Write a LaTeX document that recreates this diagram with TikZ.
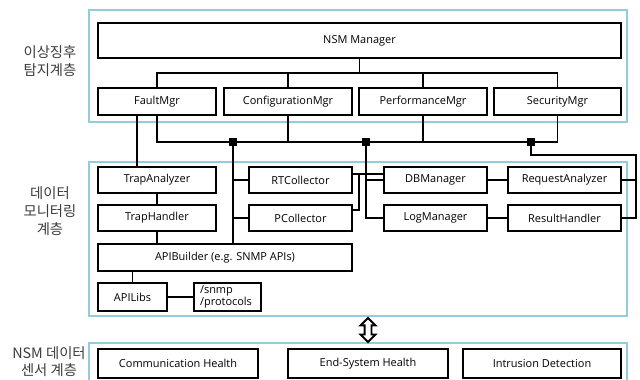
\documentclass[tikz,border=0pt]{standalone}
\usepackage{fontspec}
\setmainfont{Open Sans}
\newfontfamily\krfont{Noto Sans CJK KR}
\usetikzlibrary{calc}
\usetikzlibrary{shapes.arrows}

\definecolor{layerblue}{HTML}{92CDDC}
\definecolor{labelgray}{HTML}{3C3C3C}

\tikzset{
    layer/.style={draw=layerblue, line width=1.1pt},
    box/.style 2 args={draw, line width=1.2pt, inner sep=0pt,
        minimum width=#1*0.025cm, minimum height=#2*0.025cm,
        font=\fontsize{7.8}{8.6}\selectfont},
    link/.style={line width=1.05pt},
    junc/.style={fill, inner sep=0pt, minimum size=8*0.025cm},
    tier/.style={align=center, text=labelgray,
        font=\krfont\fontsize{10.2}{12.8}\selectfont}
}

\begin{document}
\begin{tikzpicture}[x=0.025cm, y=-0.025cm]
    \useasboundingbox (0,0) rectangle (640,380);

    \draw[layer] (89,10) rectangle (627,122);
    \draw[layer] (89,162) rectangle (627,316);
    \draw[layer] (89,343) rectangle (627,395);

    \node[tier] (tier1) at (50,61) {이상징후\\탐지계층};
    \node[tier] (tier2) at (50,211) {데이터\\모니터링\\계층};
    \node[tier, font=\krfont\fontsize{10.2}{12}\selectfont] (tier3) at (49,361.5) {NSM 데이터\\센서 계층};

    \node[box={523}{35}] (nsm) at (359.5,40.5) {NSM Manager};
    \node[box={118}{27}] (fault) at (157,101.5) {FaultMgr};
    \node[box={128}{27}] (config) at (288,101.5) {ConfigurationMgr};
    \node[box={128}{27}] (perf) at (423,101.5) {PerformanceMgr};
    \node[box={127}{27}] (secur) at (557.5,101.5) {SecurityMgr};

    \node[box={118}{26}] (trapa) at (157,180) {TrapAnalyzer};
    \node[box={118}{26}] (traph) at (157,218) {TrapHandler};
    \node[box={103}{26}] (rtc) at (300.5,180) {RTCollector};
    \node[box={103}{26}] (pcol) at (300.5,218) {PCollector};
    \node[box={103}{26}] (dbm) at (435.5,180) {DBManager};
    \node[box={103}{26}] (logm) at (435.5,218) {LogManager};
    \node[box={113}{26}] (reqa) at (564.5,180) {RequestAnalyzer};
    \node[box={113}{26}] (resh) at (564.5,218) {ResultHandler};
    \node[box={254}{27}] (apib) at (225,257.5) {APIBuilder (e.g. SNMP APIs)};
    \node[box={69}{28}] (apil) at (132.5,297) {APILibs};
    \node[box={67}{28}, text width=55*0.025cm, align=left] (proto) at (227.5,297) {/snmp\\/protocols};

    \node[box={160}{29}] (comm) at (178,363.5) {Communication Health};
    \node[box={160}{29}] (endsys) at (368,363.5) {End-System Health};
    \node[box={158}{29}] (intr) at (542,363.5) {Intrusion Detection};

    \node[draw, fill=white, line width=1.3pt, double arrow, rotate=90,
        inner sep=2.5*0.025cm, minimum height=24*0.025cm, minimum width=13*0.025cm,
        double arrow head extend=4*0.025cm] (updown) at (368,330) {};

    \coordinate (topbus) at (0,73);
    \coordinate (lowbus) at (0,142);
    \coordinate (rbus) at (636,155);

    \draw[link] (nsm.south) -- (nsm.south |- topbus);
    \draw[link] (fault.north) -- (fault.north |- topbus) -- (secur.north |- topbus) -- (secur.north);
    \draw[link] (config.north) -- (config.north |- topbus);
    \draw[link] (perf.north) -- (perf.north |- topbus);

    \draw[link] (fault.south) -- (fault.south |- lowbus) -- (secur.south |- lowbus) -- (secur.south);
    \draw[link] (config.south) -- (config.south |- lowbus);
    \draw[link] (perf.south) -- (perf.south |- lowbus);

    \node[junc] (j1) at (233,142) {};
    \node[junc] (j2) at (366,142) {};
    \node[junc] (j3) at (531,142) {};

    \draw[link] ($(fault.south)+(-20,0)$) -- ($(trapa.north)+(-20,0)$);
    \draw[link] (trapa) -- (traph);
    \draw[link] (traph.south) -- (traph.south |- apib.north);
    \draw[link] (apil.north) -- (apil.north |- apib.south);
    \draw[link] (apil) -- (proto);

    \draw[link] (j1) -- (j1 |- apib.north);
    \draw[link] (j1 |- rtc.west) -- (rtc.west);
    \draw[link] (j1 |- pcol.west) -- (pcol.west);

    \coordinate (rtcout) at ($(rtc.east)+(0,-6)$);
    \draw[link] (rtcout) -- (rtcout -| dbm.west);
    \draw[link] ($(pcol.east)+(0,-8)$) -| ($(rtcout)+(6,0)$);
    \draw[link] (j2) |- (logm.west);
    \draw[link] (j2 |- dbm.west) -- (dbm.west);
    \draw[link] (dbm) -- (reqa);
    \draw[link] (logm) -- (resh);

    \draw[link] (j3) |- (rbus) |- (resh.east);
    \draw[link] (reqa.east) -- (reqa.east -| rbus);
\end{tikzpicture}
\end{document}
